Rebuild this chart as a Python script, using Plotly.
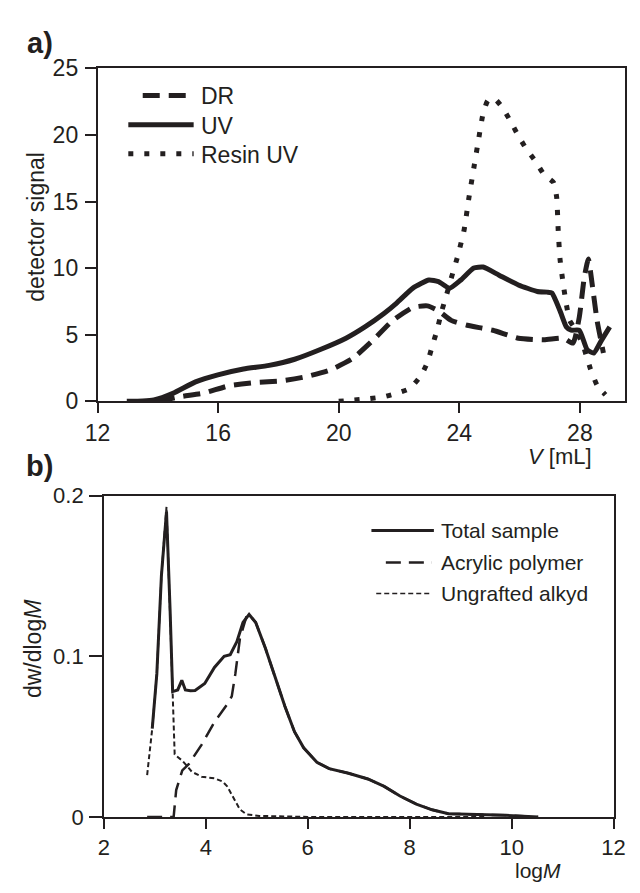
import plotly.graph_objects as go

INK = "#231f20"
FONT = "Liberation Sans, Arial, sans-serif"

# ---------------- panel a data ----------------
dr_v = [14.0, 14.77, 15.51, 16.36, 17.23, 18.08, 18.91, 19.71, 20.45, 21.14, 21.8, 22.46,
        22.94, 23.31, 23.73, 24.26, 25.11, 25.96, 26.81, 27.45, 27.77, 27.98, 28.14, 28.28,
        28.41, 28.57, 28.78]
dr_s = [0.0, 0.36, 0.61, 1.17, 1.41, 1.53, 1.85, 2.35, 3.2, 4.6, 6.08, 7.05,
        7.17, 6.8, 6.08, 5.71, 5.34, 4.74, 4.62, 4.74, 4.37, 6.32, 9.23, 10.69,
        8.74, 6.07, 3.63]

uv_v = [12.97, 13.5, 13.87, 14.5, 15.25, 15.99, 16.84, 17.69, 18.54, 19.39, 20.24, 20.87,
        21.5, 21.93, 22.46, 22.99, 23.31, 23.68, 24.05, 24.48, 24.79, 25.32, 25.96, 26.59,
        26.91, 27.07, 27.34, 27.55, 27.71, 27.98, 28.24, 28.46, 28.72, 28.99]
uv_s = [0.0, 0.02, 0.1, 0.6, 1.46, 1.99, 2.43, 2.7, 3.16, 3.89, 4.74, 5.59,
        6.6, 7.4, 8.5, 9.11, 8.99, 8.5, 9.11, 10.01, 10.08, 9.47, 8.74, 8.25,
        8.2, 8.13, 6.8, 5.59, 5.34, 5.34, 3.88, 3.63, 4.6, 5.59]

resin_v = [20.0, 20.5, 21.0, 21.5, 21.93, 22.36, 22.73, 22.94, 23.1, 23.26, 23.42, 23.58,
           23.73, 23.95, 24.16, 24.32, 24.48, 24.64, 24.79, 24.95, 25.17, 25.45, 25.7, 25.96,
           26.22, 26.54, 26.81, 27.13, 27.23, 27.28, 27.34, 27.45, 27.55, 27.66, 27.82, 28.08,
           28.35, 28.57, 28.85]
resin_s = [0.0, 0.1, 0.2, 0.35, 0.61, 0.97, 1.94, 2.91, 4.13, 5.34, 6.8, 8.02,
           9.23, 10.93, 12.88, 15.31, 17.5, 19.68, 21.62, 22.6, 22.72, 21.99, 21.02, 19.93,
           18.96, 17.99, 17.02, 16.41, 15.31, 12.88, 10.69, 8.75, 7.29, 6.07, 5.5, 4.37,
           2.43, 1.21, 0.49]

# ---------------- panel b data ----------------
total_m = [2.95, 3.04, 3.13, 3.23, 3.30, 3.35, 3.45, 3.53, 3.6, 3.7, 3.79, 3.98, 4.17, 4.36,
           4.48, 4.61, 4.73, 4.85, 4.98, 5.17, 5.36, 5.55, 5.74, 5.92, 6.18, 6.42, 6.8,
           7.18, 7.5, 7.81, 8.13, 8.44, 8.76, 9.26, 9.89, 10.52]
total_w = [0.055, 0.089, 0.150, 0.190, 0.129, 0.078, 0.079, 0.085, 0.079, 0.0785, 0.0787,
           0.083, 0.093, 0.100, 0.101, 0.109, 0.121, 0.126, 0.121, 0.105, 0.087, 0.069,
           0.053, 0.043, 0.034, 0.030, 0.0272, 0.0236, 0.019, 0.013, 0.008, 0.0044, 0.002,
           0.0016, 0.001, 0.0]

acryl_m = [2.85, 3.37, 3.42, 3.54, 3.67, 3.92, 4.17, 4.42, 4.51, 4.58, 4.67, 4.8, 4.85,
           4.98, 5.17, 5.36, 5.55, 5.74, 5.92, 6.18, 6.42, 6.8, 7.18, 7.5, 7.81, 8.13,
           8.44, 8.76, 9.26, 9.89, 10.52]
acryl_w = [0.0, 0.0, 0.0167, 0.029, 0.033, 0.045, 0.059, 0.070, 0.075, 0.089, 0.111, 0.125,
           0.126, 0.121, 0.105, 0.087, 0.069, 0.053, 0.043, 0.034, 0.030, 0.0272, 0.0236,
           0.019, 0.013, 0.008, 0.0044, 0.002, 0.0016, 0.001, 0.0]

alkyd_m = [2.85, 2.95, 3.04, 3.13, 3.23, 3.30, 3.35, 3.39, 3.42, 3.54, 3.73, 3.92, 4.17,
           4.33, 4.42, 4.55, 4.67, 4.80, 5.05, 6.0, 7.0, 8.0, 9.0, 9.5]
alkyd_w = [0.026, 0.055, 0.089, 0.150, 0.193, 0.129, 0.079, 0.039, 0.038, 0.035, 0.028,
           0.025, 0.024, 0.022, 0.019, 0.011, 0.0046, 0.0016, 0.0006, 0.0, 0.0, 0.0, 0.0, 0.0]

# ticks / labels
a_xticks = [12, 16, 20, 24, 28]
a_yticks = [0, 5, 10, 15, 20, 25]
b_xticks = [2, 4, 6, 8, 10, 12]
b_yticks = [0, 0.1, 0.2]
b_yticktext = ["0", "0.1", "0.2"]
a_names = ["DR", "UV", "Resin UV"]
b_names = ["Total sample", "Acrylic polymer", "Ungrafted alkyd"]

W, H = 640, 893
def px(x):
    return x / W
def py(y):
    return 1 - y / H

A_DASH = ["17px,9px", "solid", "5px,11px"]
A_W = 5
B_DASH = ["solid", "15px,8px", "5px,3px"]
B_W = [3, 2.5, 2]

fig = go.Figure()
for xs, ys, nm, d in zip([dr_v, uv_v, resin_v], [dr_s, uv_s, resin_s], a_names, A_DASH):
    fig.add_trace(go.Scatter(x=xs, y=ys, name=nm, mode="lines", xaxis="x", yaxis="y",
                             line=dict(color=INK, width=A_W, dash=d, shape="spline", smoothing=0.5),
                             showlegend=False))
for xs, ys, nm, d, w in zip([alkyd_m, acryl_m, total_m], [alkyd_w, acryl_w, total_w],
                            [b_names[2], b_names[1], b_names[0]], [B_DASH[2], B_DASH[1], B_DASH[0]],
                            [B_W[2], B_W[1], B_W[0]]):
    fig.add_trace(go.Scatter(x=xs, y=ys, name=nm, mode="lines", xaxis="x2", yaxis="y2",
                             line=dict(color=INK, width=w, dash=d), showlegend=False))

def axstyle(size, ticklen, standoff):
    return dict(showgrid=False, zeroline=False, showline=True, linecolor=INK, linewidth=1.5,
                mirror=True, ticks="outside", tickcolor=INK, tickwidth=1.5, ticklen=ticklen,
                ticklabelstandoff=standoff, tickfont=dict(family=FONT, size=size, color=INK))

fig.update_layout(
    width=W, height=H, margin=dict(l=0, r=0, t=0, b=0),
    paper_bgcolor="white", plot_bgcolor="white", showlegend=False,
    xaxis=dict(domain=[px(88), px(637)], range=[12, 29.5], tickvals=a_xticks, anchor="y",
               **axstyle(23, 10, 0)),
    yaxis=dict(domain=[py(400), py(57)], range=[0, 25], tickvals=a_yticks, anchor="x",
               **axstyle(23, 11, 2)),
    xaxis2=dict(domain=[px(94.5), px(625)], range=[2, 12], tickvals=b_xticks, anchor="y2",
                **axstyle(22, 10, 0)),
    yaxis2=dict(domain=[py(828), py(497)], range=[0, 0.2], tickvals=b_yticks, ticktext=b_yticktext,
                anchor="x2", **axstyle(22, 13, 1)),
)

anns = []
def ann(text, x, y, size=23, xanchor="center", yanchor="middle", angle=0, bold=False):
    anns.append(dict(text=text, x=px(x), y=py(y), xref="paper", yref="paper", showarrow=False,
                     xanchor=xanchor, yanchor=yanchor, textangle=angle,
                     font=dict(family=FONT, size=size, color=INK, weight="bold" if bold else "normal")))

ann("a)", 12, 31, size=29, xanchor="left", bold=True)
ann("b)", 11, 467, size=29, xanchor="left", bold=True)
ann("detector signal", 23, 220, angle=-90)
ann("<i>V</i> [mL]", 569, 457, size=22)
ann("dw/dlog<i>M</i>", 21, 655, angle=-90)
ann("log<i>M</i>", 546, 883, size=21)

shapes = []
# panel a legend
a_leg = [(135, 186, 85), (120, 188, 115), (120, 188, 145)]
for (x0, x1, y), nm, d in zip(a_leg, a_names, A_DASH):
    shapes.append(dict(type="line", xref="paper", yref="paper", x0=px(x0), x1=px(x1), y0=py(y), y1=py(y),
                       line=dict(color=INK, width=A_W, dash=d)))
    ann(nm, 194, y + 1, xanchor="left")
# panel b legend
b_leg = [(373, 438, 533), (388, 436, 566), (378, 436, 598)]
for (x0, x1, y), nm, d, w in zip(b_leg, b_names, B_DASH, B_W):
    shapes.append(dict(type="line", xref="paper", yref="paper", x0=px(x0), x1=px(x1), y0=py(y), y1=py(y),
                       line=dict(color=INK, width=w if w > 2 else 1.5, dash=d)))
    ann(nm, 443, y, size=21, xanchor="left")

fig.update_layout(annotations=anns, shapes=shapes)
fig.write_html("out.html")
